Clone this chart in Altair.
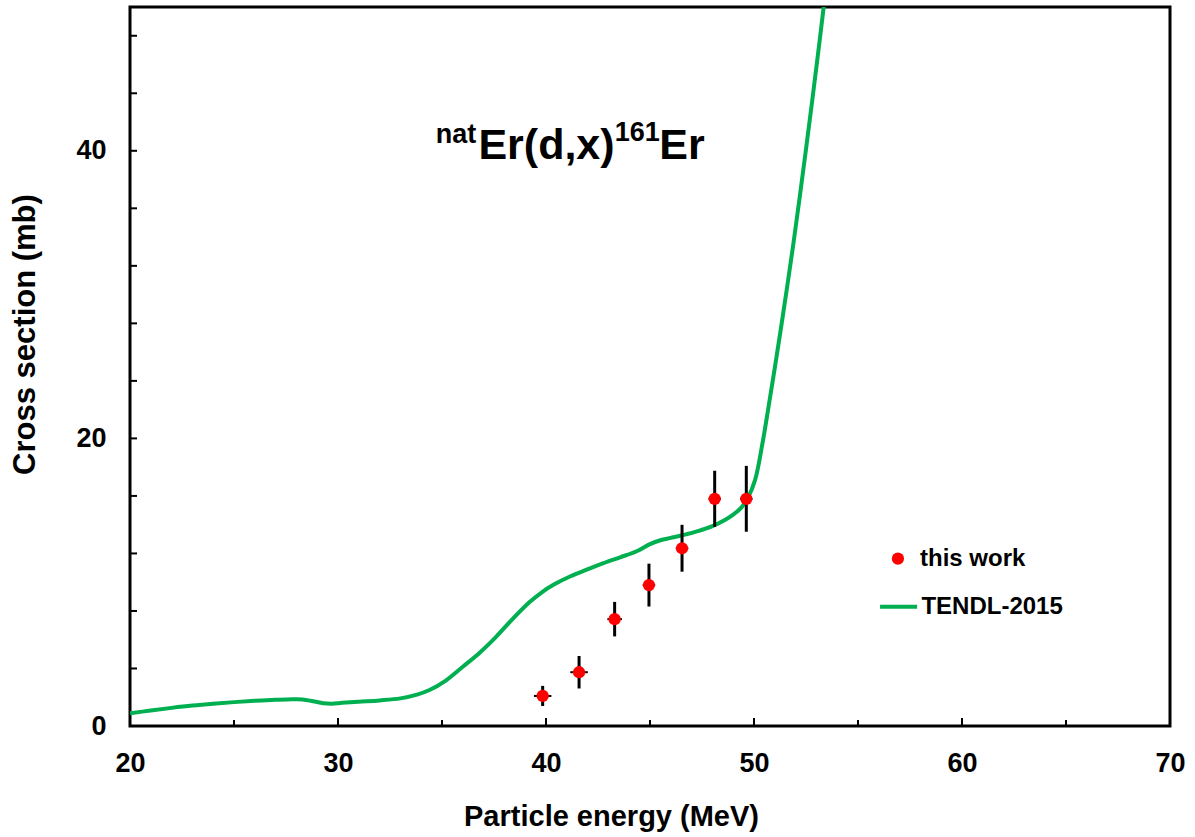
import altair as alt
import pandas as pd

# ---- data ----
tendl_e = [20, 21, 22, 23, 24, 25, 26, 27, 27.8, 28.3, 28.8, 29.3, 29.7, 30.2, 31, 32, 33,
           33.8, 34.4, 35.2, 36.0, 36.8, 37.6, 38.4, 39.2, 39.8, 40.4, 41.15, 41.96, 42.76,
           43.56, 44.36, 45.0, 45.5, 46.0, 46.6, 47.3, 48.0, 48.6, 49.0, 49.4, 49.7, 50.05,
           50.4, 50.7, 51.0, 51.3, 51.6, 51.9, 52.2, 52.5, 52.8, 53.1, 53.4]
tendl_xs = [0.88, 1.08, 1.26, 1.42, 1.55, 1.66, 1.75, 1.82, 1.86, 1.85, 1.72, 1.58, 1.55,
            1.61, 1.69, 1.78, 1.92, 2.18, 2.5, 3.18, 4.12, 5.08, 6.2, 7.45, 8.6, 9.3, 9.85,
            10.4, 10.87, 11.32, 11.73, 12.15, 12.65, 12.92, 13.08, 13.28, 13.55, 13.9, 14.33,
            14.7, 15.2, 15.85, 17.1, 19.6, 22.2, 24.9, 27.7, 30.6, 33.6, 36.8, 40.1, 43.5,
            47.0, 50.6]

exp_e = [39.84, 41.59, 43.30, 44.95, 46.54, 48.11, 49.63]
exp_xs = [2.09, 3.74, 7.43, 9.80, 12.36, 15.80, 15.80]
exp_dxs = [0.70, 1.13, 1.20, 1.49, 1.63, 1.95, 2.29]
exp_de = [0.42, 0.42, 0.35, 0.30, 0.30, 0.30, 0.30]

x_major_ticks = [30, 40, 50, 60]
x_minor_ticks = [25, 35, 45, 55, 65]
y_ticks = [4, 8, 12, 16, 20, 24, 28, 32, 36, 40, 44, 48]
x_labels = [20, 30, 40, 50, 60, 70]
y_labels = [0, 20, 40]

# title pieces (text, x in MeV, y in mb, size)
title_text = ["nat", "Er(d,x)", "161", "Er"]
title_x = [34.70, 36.75, 43.30, 45.45]
title_y = [40.55, 39.44, 40.65, 39.44]
title_size = [27, 43, 27, 43]

legend_labels = ["this work", "TENDL-2015"]
legend_x = [57.98, 58.05]
legend_y = [11.64, 8.29]

W, H = 1040, 719
FONT = "Liberation Sans"

xsc = alt.Scale(domain=[20, 70], nice=False, zero=False)
ysc = alt.Scale(domain=[0, 50], nice=False, zero=False)

tendl = pd.DataFrame({"e": tendl_e, "sig": tendl_xs})
exp = pd.DataFrame({"e": exp_e, "sig": exp_xs, "dsig": exp_dxs, "de": exp_de})
exp["lo"] = exp["sig"] - exp["dsig"]
exp["hi"] = exp["sig"] + exp["dsig"]
exp["el"] = exp["e"] - exp["de"]
exp["eh"] = exp["e"] + exp["de"]

base_x = alt.X("e:Q", scale=xsc,
               axis=alt.Axis(values=x_labels, format="d", ticks=False, domain=False, grid=False,
                             labelFontSize=27, labelFont=FONT, labelFontWeight="bold",
                             labelColor="black", labelPadding=24, labelFlush=False,
                             title="Particle energy (MeV)", titleFont=FONT, titleFontSize=29,
                             titleFontWeight="bold", titleColor="black",
                             titleX=481, titleY=99, titleAlign="center",
                             titleBaseline="alphabetic"))
base_y = alt.Y("sig:Q", scale=ysc,
               axis=alt.Axis(values=y_labels, format="d", ticks=False, domain=False, grid=False,
                             labelFontSize=27, labelFont=FONT, labelFontWeight="bold",
                             labelColor="black", labelPadding=24, labelFlush=False,
                             title="Cross section (mb)", titleFont=FONT, titleFontSize=31,
                             titleFontWeight="bold", titleColor="black",
                             titleX=-105, titleY=327, titleAlign="center",
                             titleBaseline="middle", titleAngle=-90))

line = alt.Chart(tendl).mark_line(color="#00B050", strokeWidth=4, interpolate="catmull-rom",
                                  clip=True).encode(x=base_x, y=base_y)

vbars = alt.Chart(exp).mark_rule(color="black", strokeWidth=3).encode(
    x=alt.X("e:Q", scale=xsc), y=alt.Y("lo:Q", scale=ysc), y2="hi:Q")
hbars = alt.Chart(exp).mark_rule(color="black", strokeWidth=2).encode(
    x=alt.X("el:Q", scale=xsc), x2="eh:Q", y=alt.Y("sig:Q", scale=ysc))
pts = alt.Chart(exp).mark_circle(color="#FF0000", opacity=1, size=150).encode(
    x=alt.X("e:Q", scale=xsc), y=alt.Y("sig:Q", scale=ysc))

# inward ticks
xmaj = alt.Chart(pd.DataFrame({"t": x_major_ticks})).mark_rule(color="black", strokeWidth=2).encode(
    x=alt.X("t:Q", scale=xsc), y=alt.value(H), y2=alt.value(H - 8))
xmin = alt.Chart(pd.DataFrame({"t": x_minor_ticks})).mark_rule(color="black", strokeWidth=2).encode(
    x=alt.X("t:Q", scale=xsc), y=alt.value(H), y2=alt.value(H - 6))
ytk = alt.Chart(pd.DataFrame({"t": y_ticks})).mark_rule(color="black", strokeWidth=2).encode(
    y=alt.Y("t:Q", scale=ysc), x=alt.value(0), x2=alt.value(7))

# title
tdf = pd.DataFrame({"txt": title_text, "x": title_x, "y": title_y, "s": title_size})
title_layers = []
for i in range(len(title_text)):
    title_layers.append(
        alt.Chart(tdf.iloc[[i]]).mark_text(align="left", baseline="alphabetic", font=FONT,
                                           fontWeight="bold", fontSize=title_size[i],
                                           color="black").encode(
            x=alt.X("x:Q", scale=xsc), y=alt.Y("y:Q", scale=ysc), text="txt:N"))

# legend
ldf = pd.DataFrame({"lab": legend_labels, "x": legend_x, "y": legend_y})
leg_text = alt.Chart(ldf).mark_text(align="left", baseline="middle", font=FONT,
                                    fontWeight="bold", fontSize=24, color="black").encode(
    x=alt.X("x:Q", scale=xsc), y=alt.Y("y:Q", scale=ysc), text="lab:N")
leg_dot = alt.Chart(pd.DataFrame({"x": [56.92], "y": [11.64]})).mark_circle(
    color="#FF0000", opacity=1, size=150).encode(
    x=alt.X("x:Q", scale=xsc), y=alt.Y("y:Q", scale=ysc))
leg_line = alt.Chart(pd.DataFrame({"x": [56.06], "x2": [57.84], "y": [8.29]})).mark_rule(
    color="#00B050", strokeWidth=4).encode(
    x=alt.X("x:Q", scale=xsc), x2="x2:Q", y=alt.Y("y:Q", scale=ysc))

chart = alt.layer(line, vbars, hbars, pts, xmaj, xmin, ytk, *title_layers,
                  leg_text, leg_dot, leg_line).properties(
    width=W, height=H,
    padding={"left": 130, "top": 7, "right": 25, "bottom": 111},
    autosize="none",
    background="white",
).configure_view(stroke="black", strokeWidth=3)

chart.save("out.html", embed_options={"renderer": "svg", "actions": False})
